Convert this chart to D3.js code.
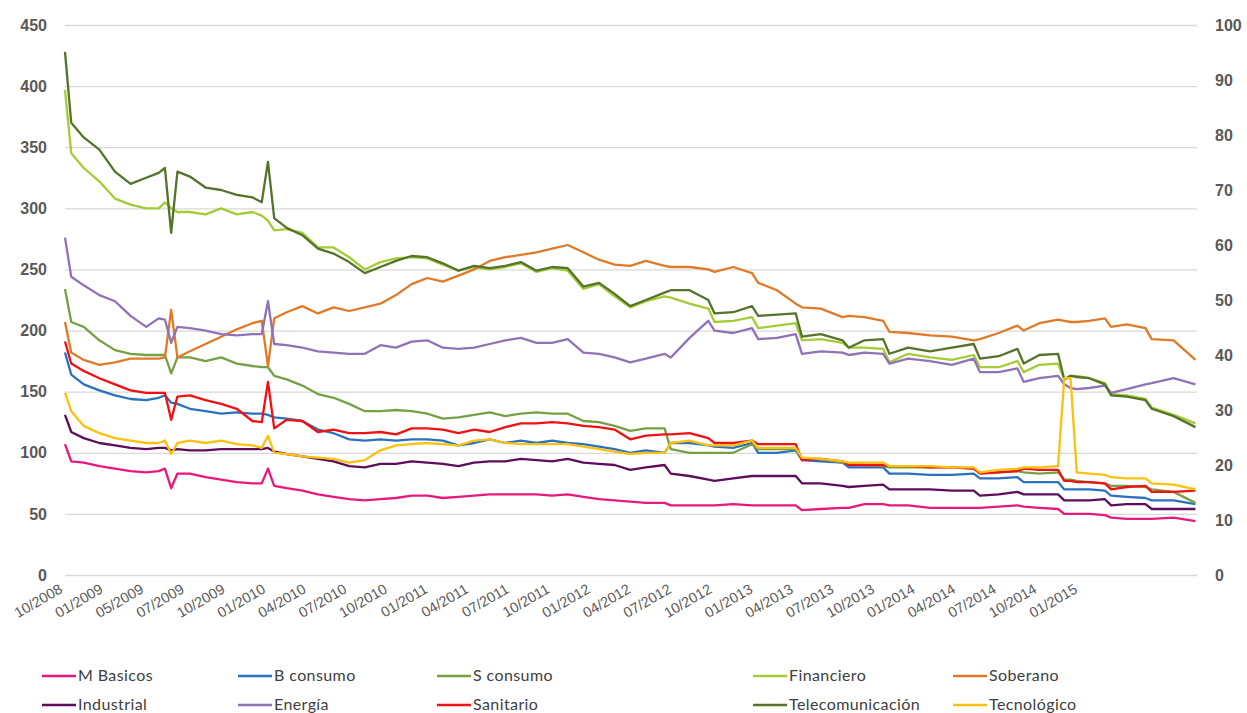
<!DOCTYPE html>
<html>
<head>
<meta charset="utf-8">
<script src="https://cdn.jsdelivr.net/npm/d3@7"></script>
<style>
  body { margin: 0; background: #fff; }
  svg { display: block; font-family: Lato, "Open Sans", sans-serif; }
</style>
</head>
<body>
<svg id="chart" width="1247" height="713"></svg>
<script>
// Datos: posicion de cada observacion en semanas (una etiqueta cada 13 semanas)
var semanas = [0,2,6,11,16,21,26,30,32,34, 36,40,45,50,55,60,63,65,67,71,
  76,81,86,91,96,101,106,111,116,121, 126,131,136,141,146,151,156,161,166,171,
  176,181,186,192,194,200,206,208,214,220, 222,228,234,236,242,249,251,256,262,264,
  270,277,284,291,293,299,305,307,312,318, 320,322,324,328,333,335,340,346,348,355,
  362];

var etiquetas = ["10/2008","01/2009","05/2009","07/2009","10/2009","01/2010","04/2010",
  "07/2010","10/2010","01/2011","04/2011","07/2011","10/2011","01/2012","04/2012",
  "07/2012","10/2012","01/2013","04/2013","07/2013","10/2013","01/2014","04/2014",
  "07/2014","10/2014","01/2015"];

var ticksIzq = [0,50,100,150,200,250,300,350,400,450];
var ticksDer = [0,10,20,30,40,50,60,70,80,90,100];

var mBasicos = [107,93,92,89,87,85,84,85,87,71, 83,83,80,78,76,75,75,87,73,71,
  69,66,64,62,61,62,63,65,65,63, 64,65,66,66,66,66,65,66,64,62,
  61,60,59,59,57,57,57,57,58,57, 57,57,57,53,54,55,55,58,58,57,
  57,55,55,55,55,56,57,56,55,54, 50,50,50,50,49,47,46,46,46,47,
  44];
var bConsumo = [182,164,156,151,147,144,143,145,147,141, 140,136,134,132,133,132,132,131,129,128,
  126,119,116,111,110,111,110,111,111,110, 106,108,111,108,110,108,110,108,107,105,
  103,100,102,100,108,108,106,105,104,108, 100,100,102,94,93,92,88,88,88,83,
  83,82,82,83,79,79,80,76,76,76, 70,70,70,70,69,65,64,63,61,61,
  58];
var sConsumo = [234,207,203,192,184,181,180,180,180,165, 178,178,175,178,173,171,170,170,163,160,
  155,148,145,140,134,134,135,134,132,128, 129,131,133,130,132,133,132,132,126,125,
  122,118,120,120,103,100,100,100,100,107, 103,103,103,95,95,92,91,90,89,88,
  88,88,88,87,84,84,85,84,83,84, 78,78,77,76,75,73,73,72,70,68,
  59];
var financiero = [397,345,333,322,308,303,300,300,305,300, 297,297,295,300,295,297,294,290,282,283,
  280,268,268,260,250,256,259,260,259,254, 249,252,250,252,255,248,251,249,234,238,
  228,219,224,228,227,222,218,207,208,211, 202,204,206,192,193,190,186,186,185,174,
  181,178,176,180,170,170,175,166,172,173, 160,163,163,161,157,148,147,144,137,131,
  124];
var soberano = [207,182,176,172,174,177,177,177,178,217, 178,183,189,195,201,206,208,171,210,215,
  220,214,219,216,219,222,229,238,243,240, 245,250,257,260,262,264,267,270,264,258,
  254,253,257,253,252,252,250,248,252,247, 239,233,222,219,218,211,212,211,208,199,
  198,196,195,192,193,198,204,200,206,209, 208,207,207,208,210,203,205,202,193,192,
  176];
var industrial = [131,117,112,108,106,104,103,104,104,102, 103,102,102,103,103,103,103,104,101,99,
  97,95,93,89,88,91,91,93,92,91, 89,92,93,93,95,94,93,95,92,91,
  90,86,88,90,83,81,78,77,79,81, 81,81,81,75,75,73,72,73,74,70,
  70,70,69,69,65,66,68,66,66,66, 61,61,61,61,62,57,58,58,54,54,
  54];
var energia = [276,244,237,229,224,212,203,210,209,190, 203,202,200,197,196,197,197,224,189,188,
  186,183,182,181,181,188,186,191,192,186, 185,186,189,192,194,190,190,193,182,181,
  178,174,177,181,178,194,208,200,198,202, 193,194,197,181,183,182,180,182,181,173,
  177,175,172,177,166,166,169,158,161,163, 156,153,152,153,155,149,152,156,157,161,
  156];
var sanitario = [191,173,167,161,156,151,149,149,149,127, 146,147,143,140,136,126,125,158,120,127,
  126,117,119,116,116,117,115,120,120,119, 116,119,117,121,124,124,125,124,122,121,
  119,111,114,115,115,116,112,108,108,110, 107,107,107,94,95,93,90,90,90,89,
  89,88,88,87,83,84,85,87,86,86, 77,77,76,76,75,70,72,73,68,68,
  69];
var telecom = [428,370,358,348,330,320,325,329,333,280, 330,326,317,315,311,309,305,338,292,284,
  278,267,263,256,247,252,257,261,260,255, 249,253,251,253,256,249,252,251,236,239,
  230,220,225,231,233,233,225,214,215,220, 212,213,214,195,197,192,186,192,193,181,
  186,183,186,189,177,179,185,173,180,181, 160,163,162,161,156,147,146,143,136,130,
  121];
var tecnologico = [149,134,122,116,112,110,108,108,110,99, 108,110,108,110,107,106,104,114,100,99,
  97,96,95,92,94,102,106,107,108,107, 106,110,111,108,107,107,107,107,105,103,
  101,99,100,100,108,110,106,106,106,110, 104,104,104,96,95,93,92,92,92,89,
  89,89,88,88,84,86,87,88,88,89, 161,161,84,83,82,80,79,79,75,74,
  70];

var series = [
  { nombre: "M Basicos", valores: mBasicos, color: "#e8197d" },
  { nombre: "B consumo", valores: bConsumo, color: "#2a72bf" },
  { nombre: "S consumo", valores: sConsumo, color: "#77a044" },
  { nombre: "Financiero", valores: financiero, color: "#a4cc34" },
  { nombre: "Soberano", valores: soberano, color: "#e07a26" },
  { nombre: "Industrial", valores: industrial, color: "#5e0c5c" },
  { nombre: "Energía", valores: energia, color: "#9072b6" },
  { nombre: "Sanitario", valores: sanitario, color: "#f01212" },
  { nombre: "Telecomunicación", valores: telecom, color: "#55732b" },
  { nombre: "Tecnológico", valores: tecnologico, color: "#fcc10e" }
];

var svg = d3.select("#chart");
var mIzq = 65, mDer = 1197, mArriba = 25, mAbajo = 575;

var x = d3.scaleLinear().domain([0, 362.5]).range([mIzq, mDer]);
var yL = d3.scaleLinear().domain([0, 450]).range([mAbajo, mArriba]);
var yR = d3.scaleLinear().domain([0, 100]).range([mAbajo, mArriba]);

// eje izquierdo + rejilla
var gL = svg.append("g")
  .attr("transform", "translate(" + mIzq + ",0)")
  .call(d3.axisLeft(yL).tickValues(ticksIzq).tickSize(-(mDer - mIzq)).tickPadding(18));
gL.select(".domain").remove();
gL.selectAll("line").attr("stroke", "#d9d9d9").attr("stroke-width", 1.3);
gL.selectAll("text").attr("fill", "#595959").style("font-size", "16px").style("font-weight", "bold");

// eje derecho
var gR = svg.append("g")
  .attr("transform", "translate(" + mDer + ",0)")
  .call(d3.axisRight(yR).tickValues(ticksDer).tickSize(0).tickPadding(18));
gR.select(".domain").remove();
gR.selectAll("text").attr("fill", "#595959").style("font-size", "16px").style("font-weight", "bold");

// eje x con etiquetas giradas
var gX = svg.append("g")
  .attr("transform", "translate(0," + mAbajo + ")")
  .call(d3.axisBottom(x).tickValues(d3.range(0, 326, 13)).tickSize(0)
    .tickFormat(function(d, i) { return etiquetas[i]; }));
gX.select(".domain").remove();
gX.selectAll("text")
  .attr("y", 0).attr("dy", 0)
  .attr("transform", "translate(-2,17) rotate(-30)")
  .attr("text-anchor", "end")
  .attr("fill", "#595959")
  .style("font-size", "14.5px");

// lineas
var linea = d3.line()
  .x(function(d, i) { return x(semanas[i]); })
  .y(function(d) { return yL(d); });

series.forEach(function(s) {
  svg.append("path")
    .datum(s.valores)
    .attr("fill", "none")
    .attr("stroke", s.color)
    .attr("stroke-width", 2.3)
    .attr("stroke-linejoin", "round")
    .attr("d", linea);
});

// leyenda
var colX = [42, 238, 437, 753, 953];
var filaY = [676, 705];
var ley = svg.append("g");
series.forEach(function(s, i) {
  var cx = colX[i % 5], cy = filaY[Math.floor(i / 5)];
  ley.append("line")
    .attr("x1", cx).attr("x2", cx + 34)
    .attr("y1", cy).attr("y2", cy)
    .attr("stroke", s.color).attr("stroke-width", 2.5);
  ley.append("text")
    .attr("x", cx + 36).attr("y", cy + 5)
    .attr("fill", "#404040")
    .style("font-size", "16px")
    .style("letter-spacing", "0.4px")
    .text(s.nombre);
});
</script>
</body>
</html>
